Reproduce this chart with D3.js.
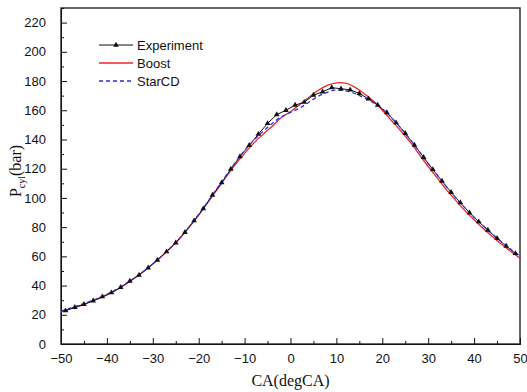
<!DOCTYPE html>
<html><head><meta charset="utf-8">
<script src="https://cdn.jsdelivr.net/npm/d3@7"></script>
<style>body{margin:0;background:#fff}svg{display:block}</style>
</head><body>
<script>
// Experiment (CA odd values)
const expCA = [-49,-47,-45,-43,-41,-39,-37,-35,-33,-31,-29,-27,-25,-23,-21,-19,-17,-15,-13,-11,-9,-7,-5,-3,-1,1,3,5,7,9,11,13,15,17,19,21,23,25,27,29,31,33,35,37,39,41,43,45,47,49];
const expP = [22.8,25.1,27.2,29.6,32.4,35.1,38.8,43.1,47.2,52.2,57.5,63.2,69.3,76.4,84.4,92.6,102,110.4,119.7,128.3,136,143.6,151,157,160,163.5,165.5,170.4,172.6,175.5,174.7,174,171.5,167.8,163.5,158.4,151.5,144.2,136.2,127.8,119.5,111.5,103.8,96.7,89.8,83.7,78,72.3,67,62];
// Simulations (CA even values)
const simCA = [-50,-48,-46,-44,-42,-40,-38,-36,-34,-32,-30,-28,-26,-24,-22,-20,-18,-16,-14,-12,-10,-8,-6,-4,-2,0,2,4,6,8,10,12,14,16,18,20,22,24,26,28,30,32,34,36,38,40,42,44,46,48,50];
const boostP = [22,24,26,28.3,30.8,33.6,36.8,40.7,45,49.6,54.7,60.2,66.2,72.7,80.3,88.3,97,105.6,114.5,123,130.5,137.5,143.5,149,155,159,163.8,168.8,173.5,177,178.8,178.5,175.8,171.5,166.5,160,153,146,138.5,130,121.5,113.5,105.5,98.3,91.3,85,79,73.5,68.2,63.3,58.7];
const starP = [22.5,24.5,26.5,28.8,31.3,34,37.2,41,45.2,49.8,54.8,60.3,66.3,72.8,80.5,88.7,97.5,106.5,115.5,124.3,132.5,139.5,145.5,151,155.5,158.5,161.5,165.5,169.5,172.3,173.8,173.3,171.5,168.5,165.3,161,155,148,140.3,132,123.5,115.5,107.5,100,93.2,86.8,80.8,75.2,69.8,64.8,60.2];
const xTicks = [-50,-40,-30,-20,-10,0,10,20,30,40,50];
const yTicks = [0,20,40,60,80,100,120,140,160,180,200,220];
const seriesNames = ["Experiment","Boost","StarCD"];

const W=527,H=392;
const L=61,R=520,T=8,B=344;
const svg=d3.select("body").append("svg").attr("width",W).attr("height",H);
const x=d3.scaleLinear().domain([-50,50]).range([L,R]);
const y=d3.scaleLinear().domain([0,230]).range([B,T]);
const font="Liberation Sans, Arial, sans-serif";

// frame
svg.append("rect").attr("x",L).attr("y",T).attr("width",R-L).attr("height",B-T)
  .attr("fill","none").attr("stroke","#333").attr("stroke-width",1.5);

// axes with inward ticks
const xAx=svg.append("g").attr("transform",`translate(0,${B})`)
  .call(d3.axisBottom(x).tickValues(xTicks).tickSizeInner(-6).tickSizeOuter(0).tickPadding(10));
const xMin=svg.append("g").attr("transform",`translate(0,${B})`)
  .call(d3.axisBottom(x).tickValues(d3.range(-45,50,10)).tickSize(-3).tickFormat(""));
const yAx=svg.append("g").attr("transform",`translate(${L},0)`)
  .call(d3.axisLeft(y).tickValues(yTicks).tickSizeInner(-6).tickSizeOuter(0).tickPadding(15));
const yMin=svg.append("g").attr("transform",`translate(${L},0)`)
  .call(d3.axisLeft(y).tickValues(d3.range(10,230,20)).tickSize(-3).tickFormat(""));
[xAx,xMin,yAx,yMin].forEach(g=>{g.select(".domain").attr("stroke","#111");g.selectAll("line").attr("stroke","#111");
  g.selectAll("text").attr("font-family",font).attr("font-size",13).attr("fill","#111");});

// lines
const clip=svg.append("defs").append("clipPath").attr("id","c").append("rect")
  .attr("x",L).attr("y",T).attr("width",R-L).attr("height",B-T);
const g=svg.append("g").attr("clip-path","url(#c)");
const line=(xs)=>d3.line().x((d,i)=>x(xs[i])).y(d=>y(d)).curve(d3.curveCatmullRom);
g.append("path").datum(boostP).attr("d",line(simCA)).attr("fill","none").attr("stroke","#e8262a").attr("stroke-width",1.3);
g.append("path").datum(expP).attr("d",d3.line().x((d,i)=>x(expCA[i])).y(d=>y(d))).attr("fill","none").attr("stroke","#111").attr("stroke-width",1);
g.append("path").datum(starP).attr("d",line(simCA)).attr("fill","none").attr("stroke","#2a2ae8").attr("stroke-width",1.3).attr("stroke-dasharray","4,3");
g.selectAll(".m").data(expP).enter().append("path")
  .attr("transform",(d,i)=>`translate(${x(expCA[i])},${y(d)})`)
  .attr("d",d3.symbol(d3.symbolTriangle,14)).attr("fill","#111");

// legend
const lg=svg.append("g");
const ly=[45,63,81];
lg.append("line").attr("x1",99).attr("x2",133).attr("y1",ly[0]).attr("y2",ly[0]).attr("stroke","#111");
lg.append("path").attr("transform",`translate(116,${ly[0]})`).attr("d",d3.symbol(d3.symbolTriangle,14)).attr("fill","#111");
lg.append("line").attr("x1",99).attr("x2",133).attr("y1",ly[1]).attr("y2",ly[1]).attr("stroke","#e8262a").attr("stroke-width",1.3);
lg.append("line").attr("x1",99).attr("x2",133).attr("y1",ly[2]).attr("y2",ly[2]).attr("stroke","#2a2ae8").attr("stroke-width",1.3).attr("stroke-dasharray","4,3");
seriesNames.forEach((n,i)=>lg.append("text").attr("x",137).attr("y",ly[i]).attr("dy","0.35em")
  .attr("font-family",font).attr("font-size",13).attr("fill","#111").text(n));

// axis titles
svg.append("text").attr("x",(L+R)/2).attr("y",386).attr("text-anchor","middle")
  .attr("font-family","Liberation Serif, Times New Roman, serif").attr("font-size",16).attr("fill","#111").text("CA(degCA)");
const yt=svg.append("text").attr("transform","translate(21,171) rotate(-90)").attr("text-anchor","middle")
  .attr("font-family","Liberation Serif, Times New Roman, serif").attr("font-size",16).attr("fill","#111");
yt.append("tspan").text("P");
yt.append("tspan").attr("font-size",10).attr("dy",4).text("cyl");
yt.append("tspan").attr("dy",-4).text("(bar)");
</script>
</body></html>
